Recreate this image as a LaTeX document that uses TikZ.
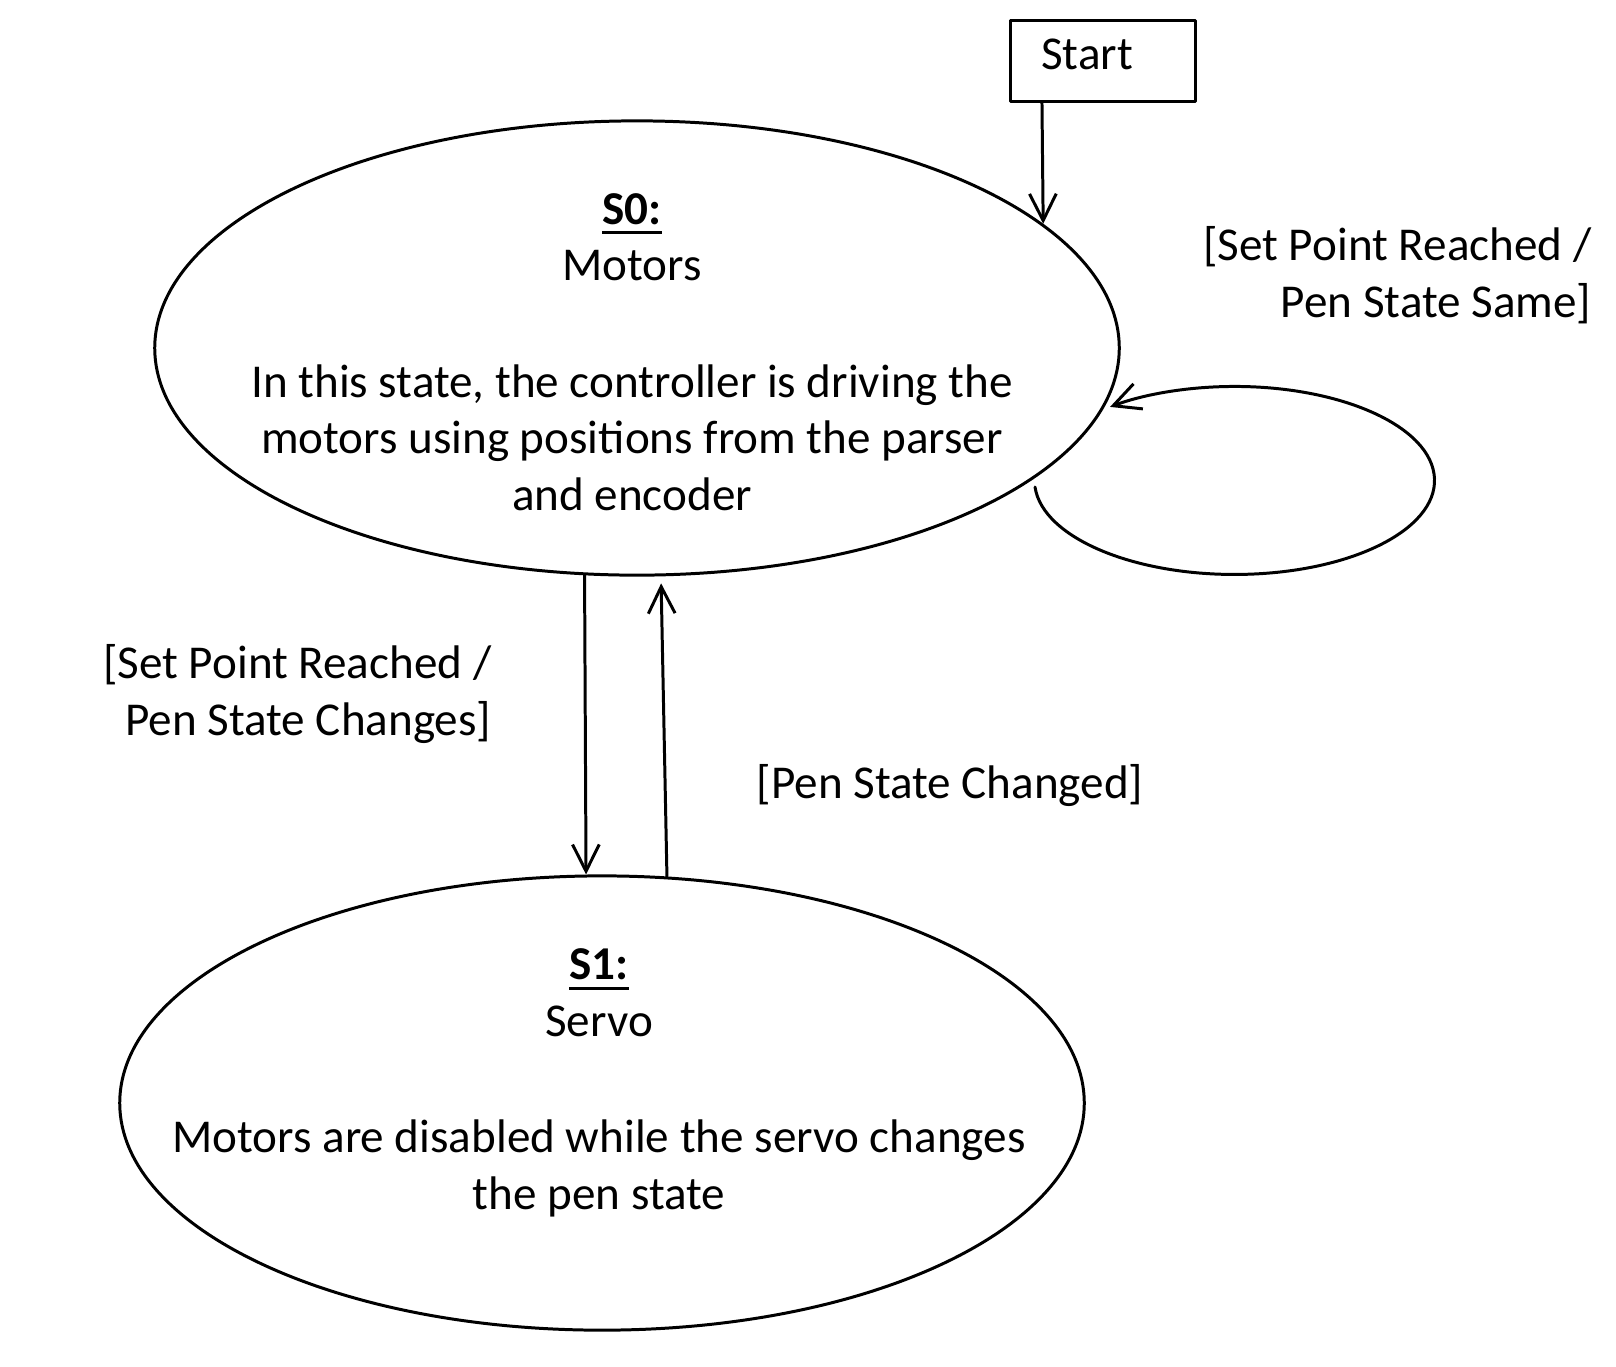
\documentclass[tikz,border=0pt]{standalone}
\usepackage{fontspec}
\setmainfont{Carlito}
\usetikzlibrary{shapes.geometric,arrows.meta}
\newsavebox{\stbox}
\newcommand{\statename}[1]{\sbox{\stbox}{\textbf{#1}}\rlap{\usebox{\stbox}}\rule[-2.9pt]{\wd\stbox}{0.9pt}}

\tikzset{
  state/.style={ellipse, draw, line width=0.85pt, minimum width=9.64cm, minimum height=4.54cm, inner sep=0pt},
  txt/.style={font=\fontsize{13.4}{16.1}\selectfont, align=center, inner sep=0pt},
  guard/.style={font=\fontsize{13.4}{16.1}\selectfont, align=right, inner sep=0pt, anchor=east},
  trans/.style={->, line width=0.85pt},
}

\begin{document}
\begin{tikzpicture}[x=0.01cm, y=0.01cm, line join=round, line cap=round, >={Straight Barb[length=7.6pt,width=7.6pt]}]
\useasboundingbox (0,0) rectangle (1616,-1366);
% start box
\node[draw, line width=0.85pt, minimum width=1.84cm, minimum height=0.81cm] (start) at (1103,-61) {};
\node[txt] (startlbl) at (1087,-54) {Start};
% states
\node[state] (s0) at (637,-348) {};
\node[state] (s1) at (602,-1103) {};
\node[txt] (s0txt) at ([xshift=-0.05cm, yshift=-0.04cm]s0.center) {\statename{S0:}\\Motors\\[17pt]In this state, the controller is driving the\\motors using positions from the parser\\and encoder};
\node[txt] (s1txt) at ([xshift=-0.03cm, yshift=0.20cm]s1.center) {\statename{S1:}\\Servo\\[17pt]Motors are disabled while the servo changes\\the pen state};
% transitions
\draw[trans] ([xshift=-0.61cm]start.south) -- (s0.17);
\draw[trans] (s0.257.5) -- (s1.94.3);
\draw[trans, shorten >=0.07cm] (s1.74.1) -- (s0.276.3);
\coordinate (loopstart) at (1035,-487);
\draw[trans] (loopstart) arc[start angle=184, end angle=488.5, x radius=200, y radius=94];
% guards
\node[guard] (sameguard) at (1592,-275) {[Set Point Reached /\\Pen State Same]};
\node[guard] (changeguard) at (492,-694) {[Set Point Reached /\\Pen State Changes]};
\node[txt] (backguard) at (950,-786) {[Pen State Changed]};
\end{tikzpicture}
\end{document}
